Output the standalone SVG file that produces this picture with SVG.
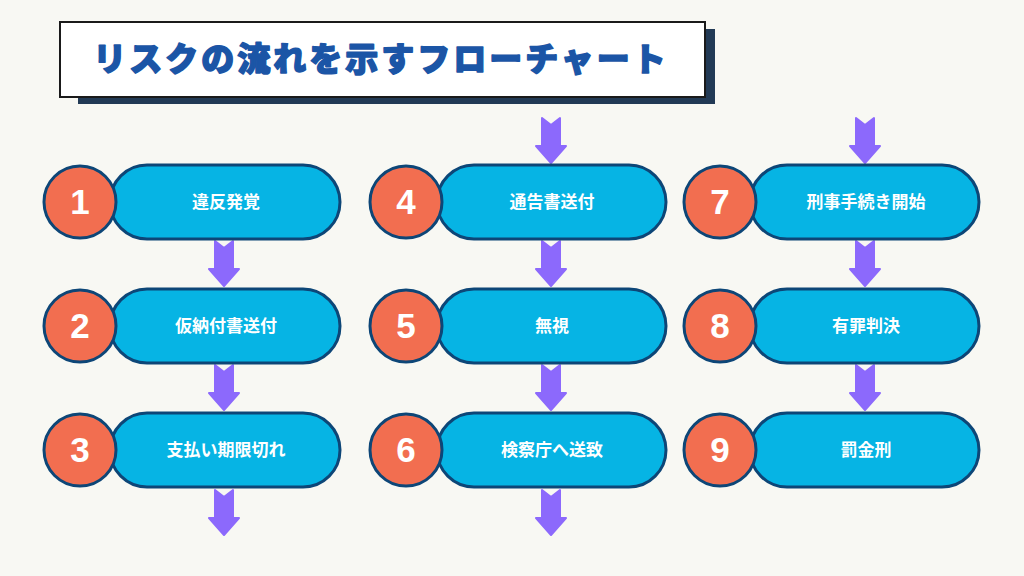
<svg xmlns="http://www.w3.org/2000/svg" width="1024" height="576" viewBox="0 0 1024 576">
<defs>
<style>
.pill{fill:#06b4e4;stroke:#0d4677;stroke-width:3}
.num{fill:#f26e50;stroke:#0d4677;stroke-width:3}
.ntxt{font-family:"Liberation Sans",Arial,sans-serif;font-weight:bold;font-size:35px;fill:#ffffff;text-anchor:middle}
.ltxt{font-family:"Noto Sans CJK JP","Noto Sans",sans-serif;font-weight:bold;font-size:17px;fill:#ffffff;text-anchor:middle}
.arr{fill:#8c69fc;stroke:#8c69fc;stroke-width:2;stroke-linejoin:round}
</style>
<path id="ar" d="M-9,0 L0,7 L9,0 L9,28 L15,28 L0,45 L-15,28 L-9,28 Z"/>
</defs>
<rect width="1024" height="576" fill="#f8f8f3"/>
<g id="title">
<rect x="78" y="29" width="637" height="75" fill="#223a55"/>
<rect x="60" y="22" width="645" height="75" fill="#ffffff" stroke="#1a1a1a" stroke-width="2"/>
<text x="381" y="71" font-family="'Noto Sans CJK JP',sans-serif" font-weight="900" font-size="33" letter-spacing="3" fill="#1b55a6" stroke="#1b55a6" stroke-width="1.5" stroke-linejoin="round" text-anchor="middle">リスクの流れを示すフローチャート</text>
</g>
<g id="connectors">
<use href="#ar" class="arr" x="224" y="241"/>
<use href="#ar" class="arr" x="224" y="365"/>
<use href="#ar" class="arr" x="224" y="490"/>
<use href="#ar" class="arr" x="551" y="118"/>
<use href="#ar" class="arr" x="551" y="241"/>
<use href="#ar" class="arr" x="551" y="365"/>
<use href="#ar" class="arr" x="551" y="490"/>
<use href="#ar" class="arr" x="865" y="118"/>
<use href="#ar" class="arr" x="865" y="241"/>
<use href="#ar" class="arr" x="865" y="365"/>
</g>
<g id="n1"><rect class="pill" x="110" y="165" width="230" height="74" rx="37"/><circle class="num" cx="80" cy="202" r="36"/><text class="ntxt" x="80" y="214">1</text><text class="ltxt" x="226" y="208">違反発覚</text></g>
<g id="n2"><rect class="pill" x="110" y="289" width="230" height="74" rx="37"/><circle class="num" cx="80" cy="326" r="36"/><text class="ntxt" x="80" y="338">2</text><text class="ltxt" x="226" y="332">仮納付書送付</text></g>
<g id="n3"><rect class="pill" x="110" y="413" width="230" height="74" rx="37"/><circle class="num" cx="80" cy="450" r="36"/><text class="ntxt" x="80" y="462">3</text><text class="ltxt" x="226" y="456">支払い期限切れ</text></g>
<g id="n4"><rect class="pill" x="437" y="165" width="229" height="74" rx="37"/><circle class="num" cx="406" cy="202" r="36"/><text class="ntxt" x="406" y="214">4</text><text class="ltxt" x="552" y="208">通告書送付</text></g>
<g id="n5"><rect class="pill" x="437" y="289" width="229" height="74" rx="37"/><circle class="num" cx="406" cy="326" r="36"/><text class="ntxt" x="406" y="338">5</text><text class="ltxt" x="552" y="332">無視</text></g>
<g id="n6"><rect class="pill" x="437" y="413" width="229" height="74" rx="37"/><circle class="num" cx="406" cy="450" r="36"/><text class="ntxt" x="406" y="462">6</text><text class="ltxt" x="552" y="456">検察庁へ送致</text></g>
<g id="n7"><rect class="pill" x="750" y="165" width="229" height="74" rx="37"/><circle class="num" cx="720" cy="202" r="36"/><text class="ntxt" x="720" y="214">7</text><text class="ltxt" x="866" y="208">刑事手続き開始</text></g>
<g id="n8"><rect class="pill" x="750" y="289" width="229" height="74" rx="37"/><circle class="num" cx="720" cy="326" r="36"/><text class="ntxt" x="720" y="338">8</text><text class="ltxt" x="866" y="332">有罪判決</text></g>
<g id="n9"><rect class="pill" x="750" y="413" width="229" height="74" rx="37"/><circle class="num" cx="720" cy="450" r="36"/><text class="ntxt" x="720" y="462">9</text><text class="ltxt" x="866" y="456">罰金刑</text></g>
</svg>
